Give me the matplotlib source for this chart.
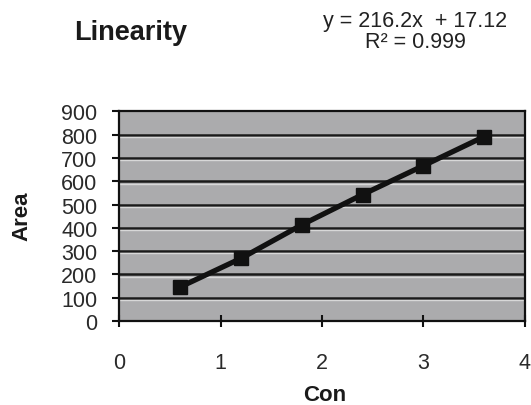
import matplotlib
matplotlib.use("Agg")
import matplotlib.pyplot as plt
import matplotlib.transforms as mtransforms

plt.rcParams['font.family'] = ['Liberation Sans', 'DejaVu Sans']

con = [0.6, 1.2, 1.8, 2.4, 3.0, 3.6]
area = [146, 269, 413, 543, 667, 792]
x_ticks = [0, 1, 2, 3, 4]
y_ticks = [0, 100, 200, 300, 400, 500, 600, 700, 800, 900]

fig = plt.figure(figsize=(5.31, 4.06), dpi=100)
ax = fig.add_axes([0.225, 0.207, 0.763, 0.516])
ax.set_facecolor('#ababad')

ax.set_xlim(0, 4)
ax.set_ylim(0, 900)
ax.set_xticks(x_ticks)
ax.set_yticks(y_ticks)

# gridlines with bevel highlight
off = mtransforms.offset_copy(ax.transData, fig=fig, x=0, y=-1.6, units='points')
for yv in y_ticks[1:-1]:
    ax.axhline(yv, color='#1a1a1a', lw=1.8, zorder=1)
    ax.plot([0, 4], [yv, yv], color='#d8d8d8', lw=1.0, transform=off, zorder=1)

ax.plot(con, area, color='#111111', lw=3.8, marker='s', markersize=10,
        markerfacecolor='#111111', markeredgecolor='#111111', zorder=3)

for s in ax.spines.values():
    s.set_color('#111111')
    s.set_linewidth(1.6)

ax.tick_params(axis='y', direction='out', length=5, width=1.5, pad=11,
               labelsize=15.5, colors='#111111', labelcolor='#2a2a2a')
ax.tick_params(axis='x', direction='inout', length=9, width=1.5, pad=18,
               labelsize=15.5, colors='#111111', labelcolor='#2a2a2a')

fig.text(131 / 531, 1 - 33 / 406, 'Linearity', ha='center', va='center',
         fontsize=19.5, fontweight='bold', color='#1a1a1a')
fig.text(415 / 531, 1 - 22 / 406, 'y = 216.2x  + 17.12', ha='center', va='center',
         fontsize=15.5, color='#222222')
fig.text(415 / 531, 1 - 42 / 406, 'R² = 0.999', ha='center', va='center',
         fontsize=15.5, color='#222222')
fig.text(22 / 531, 1 - 216 / 406, 'Area', ha='center', va='center', rotation=90,
         fontsize=16, fontweight='bold', color='#1a1a1a')
fig.text(325 / 531, 1 - 396 / 406, 'Con', ha='center', va='center',
         fontsize=16, fontweight='bold', color='#1a1a1a')

fig.savefig('out.png', dpi=100)
